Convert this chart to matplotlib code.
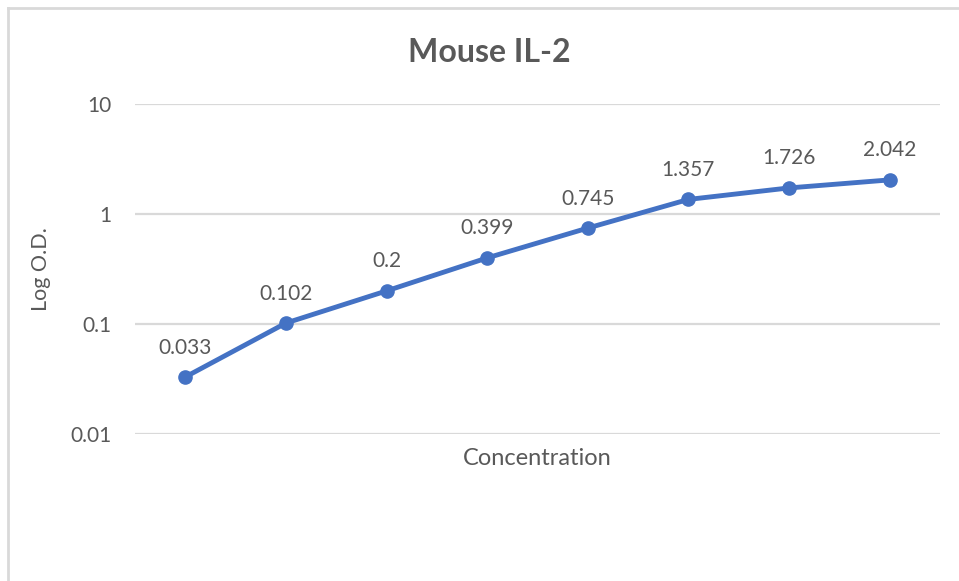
import matplotlib.pyplot as plt
from matplotlib.lines import Line2D

# values
positions = [1, 2, 3, 4, 5, 6, 7, 8]
od_values = [0.033, 0.102, 0.2, 0.399, 0.745, 1.357, 1.726, 2.042]
od_labels = ['0.033', '0.102', '0.2', '0.399', '0.745', '1.357', '1.726', '2.042']
y_ticks = [0.01, 0.1, 1, 10]
y_tick_labels = ['0.01', '0.1', '1', '10']

text_color = '#595959'
grid_color = '#d9d9d9'
line_color = '#4472C4'

plt.rcParams['font.family'] = ['Lato', 'DejaVu Sans']

fig = plt.figure(figsize=(9.59, 5.81), dpi=100)
ax = fig.add_axes([135 / 959, 1 - 434 / 581, (940 - 135) / 959, (434 - 104) / 581])

ax.plot(positions, od_values, color=line_color, linewidth=3.5,
        marker='o', markersize=9.5, zorder=3)
for x, y, lab in zip(positions, od_values, od_labels):
    ax.annotate(lab, (x, y), xytext=(0, 14), textcoords='offset points',
                ha='center', va='bottom', fontsize=15, color=text_color)

ax.set_yscale('log')
ax.set_ylim(0.01, 10)
ax.set_xlim(0.5, 8.5)
ax.set_yticks(y_ticks)
ax.set_yticklabels(y_tick_labels)
ax.minorticks_off()
ax.set_xticks([])
ax.tick_params(axis='y', length=0, pad=17, labelsize=15, labelcolor=text_color)
ax.grid(axis='y', color=grid_color, linewidth=1.6)
ax.set_axisbelow(True)
for s in ax.spines.values():
    s.set_visible(False)

# title is centred on the whole chart area, not on the plot area
fig.text(489 / 959, 1 - 52 / 581, 'Mouse IL-2', fontsize=23, fontweight='bold',
         color=text_color, ha='center', va='center')
ax.set_xlabel('Concentration', fontsize=17, color=text_color, labelpad=10)
ax.set_ylabel('Log O.D.', fontsize=15.5, color=text_color, labelpad=14)

# chart border (only top and left visible in the crop)
fig.add_artist(Line2D([8 / 959, 8 / 959], [0, 1 - 8 / 581], transform=fig.transFigure,
                      color=grid_color, linewidth=2))
fig.add_artist(Line2D([8 / 959, 1], [1 - 8 / 581, 1 - 8 / 581], transform=fig.transFigure,
                      color=grid_color, linewidth=2))

fig.savefig('out.png', dpi=100)
